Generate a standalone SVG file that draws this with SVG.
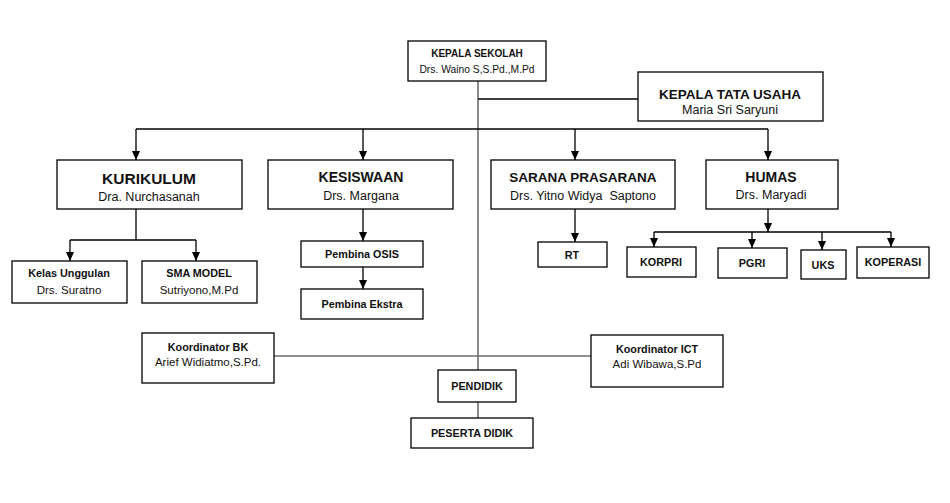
<svg xmlns="http://www.w3.org/2000/svg" width="950" height="503" viewBox="0 0 950 503">
<style>
  .box{fill:#fff;stroke:#000;stroke-width:1.3}
  text{font-family:"Liberation Sans",Arial,sans-serif;fill:#111;text-anchor:middle}
  .t{font-weight:bold}
  .big{font-size:13.5px}
  .sub{font-size:12.5px}
  .sm{font-size:10.8px;font-weight:bold}
  .smsub{font-size:11.5px}
  .ln{stroke:#000;stroke-width:1.3;fill:none}
  .trunk{stroke:#6e6e6e;stroke-width:1.6;fill:none}
</style>
<defs>
  <marker id="down" viewBox="0 0 8 9" refX="4" refY="9" markerWidth="8" markerHeight="9" markerUnits="userSpaceOnUse" orient="0">
    <path d="M0,0 L8,0 L4,9 Z" fill="#000"/>
  </marker>
</defs>
<rect width="950" height="503" fill="#fff"/>
<g id="connectors">
  <path class="trunk" d="M478,81 V370 M478,402 V418"/>
  <path class="trunk" d="M274,356 H591"/>
  <path class="ln" d="M478,99 H638"/>
  <path class="ln" d="M136,129 H768"/>
  <path class="ln" d="M136,129 V160" marker-end="url(#down)"/>
  <path class="ln" d="M363,129 V160" marker-end="url(#down)"/>
  <path class="ln" d="M575,129 V160" marker-end="url(#down)"/>
  <path class="ln" d="M768,129 V160" marker-end="url(#down)"/>
  <path class="ln" d="M136,209 V240 M70,240 H196"/>
  <path class="ln" d="M70,240 V261" marker-end="url(#down)"/>
  <path class="ln" d="M196,240 V261" marker-end="url(#down)"/>
  <path class="ln" d="M363,209 V241" marker-end="url(#down)"/>
  <path class="ln" d="M363,267 V289" marker-end="url(#down)"/>
  <path class="ln" d="M575,209 V242" marker-end="url(#down)"/>
  <path class="ln" d="M768,209 V232" marker-end="url(#down)"/>
  <path class="ln" d="M654,232 H891"/>
  <path class="ln" d="M654,232 V247" marker-end="url(#down)"/>
  <path class="ln" d="M752,232 V248" marker-end="url(#down)"/>
  <path class="ln" d="M822,232 V250" marker-end="url(#down)"/>
  <path class="ln" d="M891,232 V247" marker-end="url(#down)"/>
</g>
<g id="kepala-sekolah">
  <rect class="box" x="408" y="41" width="138" height="40"/>
  <text class="t" x="477" y="57" font-size="10">KEPALA SEKOLAH</text>
  <text x="477" y="73" font-size="10.3">Drs. Waino S,S.Pd.,M.Pd</text>
</g>
<g id="kepala-tata-usaha">
  <rect class="box" x="638" y="72" width="185" height="49"/>
  <text class="t big" x="730" y="99">KEPALA TATA USAHA</text>
  <text class="sub" x="730" y="114">Maria Sri Saryuni</text>
</g>
<g id="kurikulum">
  <rect class="box" x="57" y="160" width="185" height="49"/>
  <text class="t" x="149" y="184" font-size="15.5">KURIKULUM</text>
  <text class="sub" x="149" y="201">Dra. Nurchasanah</text>
</g>
<g id="kesiswaan">
  <rect class="box" x="268" y="160" width="185" height="49"/>
  <text class="t" x="361" y="182" font-size="14">KESISWAAN</text>
  <text class="sub" x="361" y="200">Drs. Margana</text>
</g>
<g id="sarana-prasarana">
  <rect class="box" x="491" y="160" width="184" height="49"/>
  <text class="t big" x="583" y="182">SARANA PRASARANA</text>
  <text class="sub" x="583" y="200" style="white-space:pre">Drs. Yitno Widya  Saptono</text>
</g>
<g id="humas">
  <rect class="box" x="706" y="160" width="132" height="49"/>
  <text class="t" x="771" y="182" font-size="14">HUMAS</text>
  <text class="sub" x="771" y="199">Drs. Maryadi</text>
</g>
<g id="kelas-unggulan">
  <rect class="box" x="12" y="261" width="115" height="42"/>
  <text class="sm" x="69" y="277">Kelas Unggulan</text>
  <text class="smsub" x="69" y="294">Drs. Suratno</text>
</g>
<g id="sma-model">
  <rect class="box" x="142" y="261" width="115" height="42"/>
  <text class="sm" x="199" y="277">SMA MODEL</text>
  <text class="smsub" x="199" y="294">Sutriyono,M.Pd</text>
</g>
<g id="pembina-osis">
  <rect class="box" x="301" y="241" width="122" height="26"/>
  <text class="sm" x="362" y="258">Pembina OSIS</text>
</g>
<g id="pembina-ekstra">
  <rect class="box" x="301" y="289" width="122" height="30"/>
  <text class="sm" x="362" y="308">Pembina Ekstra</text>
</g>
<g id="rt">
  <rect class="box" x="538" y="242" width="69" height="25"/>
  <text class="sm" x="572" y="259">RT</text>
</g>
<g id="korpri">
  <rect class="box" x="627" y="247" width="69" height="30"/>
  <text class="sm" x="661" y="266">KORPRI</text>
</g>
<g id="pgri">
  <rect class="box" x="718" y="248" width="69" height="30"/>
  <text class="sm" x="752" y="267">PGRI</text>
</g>
<g id="uks">
  <rect class="box" x="801" y="250" width="45" height="29"/>
  <text class="sm" x="823" y="269">UKS</text>
</g>
<g id="koperasi">
  <rect class="box" x="857" y="247" width="72" height="31"/>
  <text class="sm" x="893" y="266">KOPERASI</text>
</g>
<g id="koordinator-bk">
  <rect class="box" x="142" y="333" width="132" height="50"/>
  <text class="sm" x="208" y="351">Koordinator BK</text>
  <text class="smsub" x="208" y="366">Arief Widiatmo,S.Pd.</text>
</g>
<g id="koordinator-ict">
  <rect class="box" x="591" y="335" width="132" height="52"/>
  <text class="sm" x="657" y="353">Koordinator ICT</text>
  <text class="smsub" x="657" y="368">Adi Wibawa,S.Pd</text>
</g>
<g id="pendidik">
  <rect class="box" x="438" y="370" width="78" height="32"/>
  <text class="sm" x="477" y="390">PENDIDIK</text>
</g>
<g id="peserta-didik">
  <rect class="box" x="411" y="418" width="122" height="30"/>
  <text class="sm" x="472" y="437">PESERTA DIDIK</text>
</g>
</svg>
